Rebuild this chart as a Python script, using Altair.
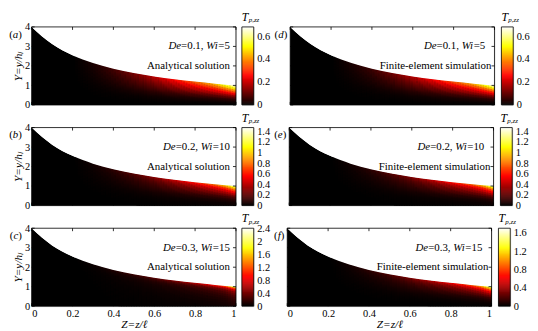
import numpy as np
import pandas as pd
import altair as alt

FONT = "Liberation Serif"

# channel wall Y = h(Z)/h_l
WALL_Z = [0.0, 0.1, 0.2, 0.3, 0.4, 0.5, 0.6, 0.7, 0.8, 0.9, 1.0]
WALL_Y = [4.0, 3.12, 2.55, 2.15, 1.86, 1.64, 1.46, 1.32, 1.2, 1.09, 1.0]

Z_TICKS = [0, 0.2, 0.4, 0.6, 0.8, 1]
Y_TICKS = [0, 1, 2, 3, 4]

LABELS = ["a", "b", "c", "d", "e", "f"]
DE = ["0.1", "0.2", "0.3", "0.1", "0.2", "0.3"]
WI = ["5", "10", "15", "5", "10", "15"]
METHOD = ["Analytical solution"] * 3 + ["Finite-element simulation"] * 3
VMAX = [0.68, 1.47, 2.4, 0.68, 1.47, 1.7]
CB_TICKS = [
    [0, 0.2, 0.4, 0.6],
    [0, 0.2, 0.4, 0.6, 0.8, 1, 1.2, 1.4],
    [0, 0.4, 0.8, 1.2, 1.6, 2, 2.4],
    [0, 0.2, 0.4, 0.6],
    [0, 0.2, 0.4, 0.6, 0.8, 1, 1.2, 1.4],
    [0, 0.4, 0.8, 1.2, 1.6],
]

# wall value of T_p,zz (fraction of colour-bar max) along Z
PEAK_Z = [0.2, 0.3, 0.4, 0.5, 0.6, 0.7, 0.8, 0.9, 0.95, 1.0]
PEAK_A = [0, 0.04, 0.10, 0.18, 0.28, 0.40, 0.53, 0.67, 0.82, 1.0]
PEAK_B = [0, 0.03, 0.07, 0.13, 0.21, 0.31, 0.43, 0.58, 0.72, 1.0]
PEAK_C = [0, 0.02, 0.05, 0.09, 0.14, 0.21, 0.30, 0.44, 0.58, 1.0]
PEAK_D = [0, 0.04, 0.09, 0.17, 0.27, 0.38, 0.51, 0.65, 0.79, 1.0]
PEAK_E = [0, 0.03, 0.07, 0.13, 0.20, 0.30, 0.42, 0.56, 0.70, 1.0]
PEAK_F = [0, 0.03, 0.07, 0.12, 0.19, 0.28, 0.38, 0.52, 0.67, 1.0]

# decay of T_p,zz from the wall (fraction 1) to the centreline (fraction 0)
PROF_F = [0.0, 0.15, 0.3, 0.45, 0.6, 0.75, 0.85, 0.93, 1.0]
PROF_A = [0.0, 0.03, 0.09, 0.22, 0.42, 0.62, 0.77, 0.90, 1.0]
PROF_B = [0.02, 0.03, 0.07, 0.15, 0.30, 0.47, 0.62, 0.79, 1.0]
PROF_C = [0.05, 0.06, 0.08, 0.11, 0.16, 0.24, 0.36, 0.58, 1.0]
PROF_D = [0.0, 0.03, 0.08, 0.20, 0.39, 0.59, 0.75, 0.89, 1.0]
PROF_E = [0.02, 0.03, 0.06, 0.14, 0.28, 0.45, 0.60, 0.78, 1.0]
PROF_F_ = [0.01, 0.02, 0.05, 0.11, 0.23, 0.39, 0.55, 0.74, 1.0]

PEAKS = [PEAK_A, PEAK_B, PEAK_C, PEAK_D, PEAK_E, PEAK_F]
PROFS = [PROF_A, PROF_B, PROF_C, PROF_D, PROF_E, PROF_F_]

HOT = ["#000000", "#ff0000", "#ffff00", "#ffffff"]
W, H = 207, 79
NZ, NF = 80, 30
TICK_LEN = 3

TIMES = {"(": .333, ")": .333, "=": .564, ".": .25, ",": .25, " ": .25,
         "D": .722, "e": .444, "W": .944, "i": .278}
TIMES_I = {"D": .722, "e": .444, "W": .833, "i": .278, "a": .5, "b": .5,
           "c": .444, "d": .5, "f": .278}


def width(s, size, italic):
    tab = TIMES_I if italic else TIMES
    return sum(tab.get(c, 0.5) for c in s) * size


xs = alt.Scale(domain=[0, 1], nice=False, zero=False)
ys = alt.Scale(domain=[0, 4], nice=False, zero=False)


def xaxis(i):
    if i in (2, 5):
        return alt.Axis(values=Z_TICKS, format="~g", ticks=False, domain=False, grid=False,
                        labelFont=FONT, labelFontSize=10.5, labelPadding=2, labelColor="black",
                        title="Z=z/ℓ", titleFont=FONT, titleFontSize=11.5, titleFontStyle="italic",
                        titleFontWeight="normal", titlePadding=0, titleColor="black")
    return None


def yaxis(i):
    if i < 3:
        return alt.Axis(values=Y_TICKS, format="d", ticks=False, domain=False, grid=False,
                        labelFont=FONT, labelFontSize=10.5, labelPadding=2, labelColor="black",
                        title="Y=y/hₗ", titleFont=FONT, titleFontSize=11.5, titleFontStyle="italic",
                        titleFontWeight="normal", titlePadding=1, titleColor="black")
    return None


def X(f, i):
    return alt.X(f + ":Q", scale=xs, axis=xaxis(i))


def Y(f, i):
    return alt.Y(f + ":Q", scale=ys, axis=yaxis(i))


one = pd.DataFrame({"k": [0]})


def rich_data(i, y, pieces, size, right_end):
    total = sum(width(s, size, it) for s, it in pieces)
    layers = []
    off = -total
    for s, it in pieces:
        d = pd.DataFrame({"x": [right_end], "y": [y]})
        layers.append(alt.Chart(d).mark_text(align="left", baseline="middle", dx=off,
                                             font=FONT, fontSize=size,
                                             fontStyle="italic" if it else "normal",
                                             color="black")
                      .encode(x=X("x", i), y=Y("y", i), text=alt.value(s)))
        off += width(s, size, it)
    return layers


def panel(i):
    M = VMAX[i]
    zs = np.linspace(0, 1, NZ + 1)
    fs = np.linspace(0, 1, NF + 1)
    ox = 0.8 / W          # sub-pixel overlap so no seams show between cells
    oy = 4 * 0.35 / H
    rows = []
    for a, b in zip(zs[:-1], zs[1:]):
        zc = 0.5 * (a + b)
        hl = float(np.interp(a, WALL_Z, WALL_Y))
        hc = float(np.interp(zc, WALL_Z, WALL_Y))
        pk = float(np.interp(zc, PEAK_Z, PEAKS[i], left=0))
        for j in range(NF):
            f0, f1 = fs[j], fs[j + 1]
            v = M * pk * float(np.interp(0.5 * (f0 + f1), PROF_F, PROFS[i]))
            if v < 0.003 * M:
                continue
            top = hl if j == NF - 1 else f1 * hc + oy
            rows.append((float(a), float(min(b + ox, 1.0)), float(f0 * hc), float(top), v))
    cells = pd.DataFrame(rows, columns=["cx0", "cx1", "cy0", "cy1", "v"])
    cscale = alt.Scale(domain=[0, 0.375 * M, 0.75 * M, M], range=HOT, interpolate="rgb", clamp=True)

    wall = pd.DataFrame({"z": WALL_Z, "h": WALL_Y, "top": 4.0, "bot": 0.0})
    base = alt.Chart(wall).mark_area(color="black", interpolate="monotone").encode(
        x=X("z", i), y=Y("h", i), y2="bot")
    heat = alt.Chart(cells).mark_rect(strokeWidth=0).encode(
        x=X("cx0", i), x2="cx1", y=Y("cy0", i), y2="cy1",
        color=alt.Color("v:Q", scale=cscale, legend=None))
    mask = alt.Chart(wall).mark_area(color="white", interpolate="monotone").encode(
        x=X("z", i), y=Y("h", i), y2="top")

    dy = 4 * TICK_LEN / H
    dx = TICK_LEN / W
    xt = pd.DataFrame({"t": Z_TICKS * 2,
                       "a": [0] * len(Z_TICKS) + [4] * len(Z_TICKS),
                       "b": [dy] * len(Z_TICKS) + [4 - dy] * len(Z_TICKS)})
    yt = pd.DataFrame({"t": Y_TICKS * 2,
                       "a": [0] * len(Y_TICKS) + [1] * len(Y_TICKS),
                       "b": [dx] * len(Y_TICKS) + [1 - dx] * len(Y_TICKS)})
    xticks = alt.Chart(xt).mark_rule(color="black", strokeWidth=0.8).encode(
        x=X("t", i), y=Y("a", i), y2="b")
    yticks = alt.Chart(yt).mark_rule(color="black", strokeWidth=0.8).encode(
        y=Y("t", i), x=X("a", i), x2="b")
    box = pd.DataFrame({"bx0": [0], "bx1": [1], "by0": [0], "by1": [4]})
    frame = alt.Chart(box).mark_rect(fillOpacity=0, stroke="black", strokeWidth=0.8).encode(
        x=X("bx0", i), x2="bx1", y=Y("by0", i), y2="by1")

    right = 0.97 if i < 3 else 0.955
    right2 = 0.97 if i < 3 else 0.985
    t1 = rich_data(i, 3.0, [("De", True), ("=" + DE[i] + ", ", False), ("Wi", True), ("=" + WI[i], False)],
                   11, right)
    t2 = alt.Chart(pd.DataFrame({"x": [right2], "y": [2.0]})).mark_text(
        align="right", baseline="middle", font=FONT, fontSize=11, color="black").encode(
        x=X("x", i), y=Y("y", i), text=alt.value(METHOD[i]))

    # panel label (a)
    lx = -10 if i < 3 else -3
    lab = []
    pieces = [("(", False), (LABELS[i], True), (")", False)]
    tot = sum(width(s, 11, it) for s, it in pieces)
    off = lx - tot
    for s, it in pieces:
        lab.append(alt.Chart(one).mark_text(align="left", baseline="middle", font=FONT, fontSize=11,
                                            fontStyle="italic" if it else "normal", color="black")
                   .encode(x=alt.value(off), y=alt.value(8), text=alt.value(s)))
        off += width(s, 11, it)

    return alt.layer(base, heat, mask, xticks, yticks, frame, *t1, t2, *lab).properties(width=W, height=H)


def cbar(i):
    M = VMAX[i]
    n = 80
    e = np.linspace(0, M, n + 1)
    g = pd.DataFrame({"a": 0, "b": 1, "v0": e[:-1], "v1": np.minimum(e[1:] + M / 150, M),
                      "vm": 0.5 * (e[:-1] + e[1:])})
    cscale = alt.Scale(domain=[0, 0.375 * M, 0.75 * M, M], range=HOT, interpolate="rgb", clamp=True)
    cx = alt.Scale(domain=[0, 1], nice=False, zero=False)
    cy = alt.Scale(domain=[0, M], nice=False, zero=False)
    ax = alt.Axis(orient="right", values=CB_TICKS[i], format="~g", ticks=False, domain=False, grid=False,
                  labelFont=FONT, labelFontSize=10.5, labelPadding=3, labelColor="black", title=None)
    grad = alt.Chart(g).mark_rect(strokeWidth=0).encode(
        x=alt.X("a:Q", scale=cx, axis=None), x2="b",
        y=alt.Y("v0:Q", scale=cy, axis=ax), y2="v1",
        color=alt.Color("vm:Q", scale=cscale, legend=None))
    fr = pd.DataFrame({"a": [0], "b": [1], "v0": [0], "v1": [M]})
    frame = alt.Chart(fr).mark_rect(fillOpacity=0, stroke="black", strokeWidth=0.8).encode(
        x=alt.X("a:Q", scale=cx, axis=None), x2="b", y=alt.Y("v0:Q", scale=cy, axis=ax), y2="v1")
    tT = alt.Chart(one).mark_text(align="left", baseline="alphabetic", font=FONT, fontSize=12,
                                  fontStyle="italic", color="black").encode(
        x=alt.value(0), y=alt.value(-6), text=alt.value("T"))
    tS = alt.Chart(one).mark_text(align="left", baseline="alphabetic", font=FONT, fontSize=7,
                                  fontStyle="italic", color="black").encode(
        x=alt.value(7), y=alt.value(-4.5), text=alt.value("p,zz"))
    return alt.layer(grad, frame, tT, tS).properties(width=12, height=H)


RES = dict(color="independent")

rows = []
for r in range(3):
    left = alt.hconcat(panel(r), cbar(r), spacing=4).resolve_scale(**RES)
    right = alt.hconcat(panel(r + 3), cbar(r + 3), spacing=5).resolve_scale(**RES)
    rows.append(alt.hconcat(left, right, spacing=3).resolve_scale(**RES))

chart = (alt.vconcat(*rows, spacing=0)
         .resolve_scale(**RES)
         .properties(padding=0)
         .configure_view(strokeWidth=0)
         .configure(font=FONT))

chart.save("out.html", embed_options={"renderer": "svg", "actions": False})
